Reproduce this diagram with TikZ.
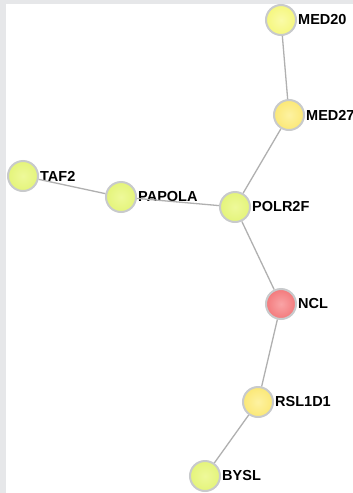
\documentclass[tikz,border=0pt]{standalone}
\usepackage{fontspec}
\setmainfont{Liberation Sans}
\definecolor{frame}{HTML}{E6E7E9}
\definecolor{edgec}{HTML}{B0B0B0}
\definecolor{nodeb}{HTML}{C8CACC}
\definecolor{lime}{HTML}{E4F47A}
\definecolor{limein}{HTML}{EEF99A}
\definecolor{lyel}{HTML}{F5F77E}
\definecolor{lyelin}{HTML}{FAFBA8}
\definecolor{yel}{HTML}{FBE876}
\definecolor{yelin}{HTML}{FDF2A2}
\definecolor{red}{HTML}{F37A7C}
\definecolor{redin}{HTML}{F9A4A6}
\tikzset{
  gene/.style={circle, minimum size=30pt, inner sep=0pt, draw=nodeb, line width=2pt,
    label={[lbl]east:#1}},
  lbl/.style={font=\bfseries\fontsize{14.5}{15}\selectfont, inner sep=0pt, label distance=1pt, text=black},
  glime/.style={inner color=limein, outer color=lime},
  glyel/.style={inner color=lyelin, outer color=lyel},
  gyel/.style={inner color=yelin, outer color=yel},
  gred/.style={inner color=redin, outer color=red},
  link/.style={draw=edgec, line width=1.3pt}
}
\begin{document}
\begin{tikzpicture}[x=1pt,y=-1pt]
\useasboundingbox (0,0) rectangle (353,493);
\clip (0,0) rectangle (353,493);
\fill[frame] (0,0) rectangle (353,493);
\fill[white] (6,4) rectangle (353,493);
\node[gene=MED20, glyel] (med20) at (281,20) {};
\node[gene=MED27, gyel] (med27) at (289,115) {};
\node[gene=TAF2, glime] (taf2) at (23,176) {};
\node[gene=PAPOLA, glime] (papola) at (121,197) {};
\node[gene=POLR2F, glime] (polr2f) at (235,207) {};
\node[gene=NCL, gred] (ncl) at (281,304) {};
\node[gene=RSL1D1, gyel] (rsl1d1) at (258,402) {};
\node[gene=BYSL, glime] (bysl) at (205,476) {};
\path[link] (med20) -- (med27);
\path[link] (med27) -- (polr2f);
\path[link] (taf2) -- (papola);
\path[link] (papola) -- (polr2f);
\path[link] (polr2f) -- (ncl);
\path[link] (ncl) -- (rsl1d1);
\path[link] (rsl1d1) -- (bysl);
\end{tikzpicture}
\end{document}
